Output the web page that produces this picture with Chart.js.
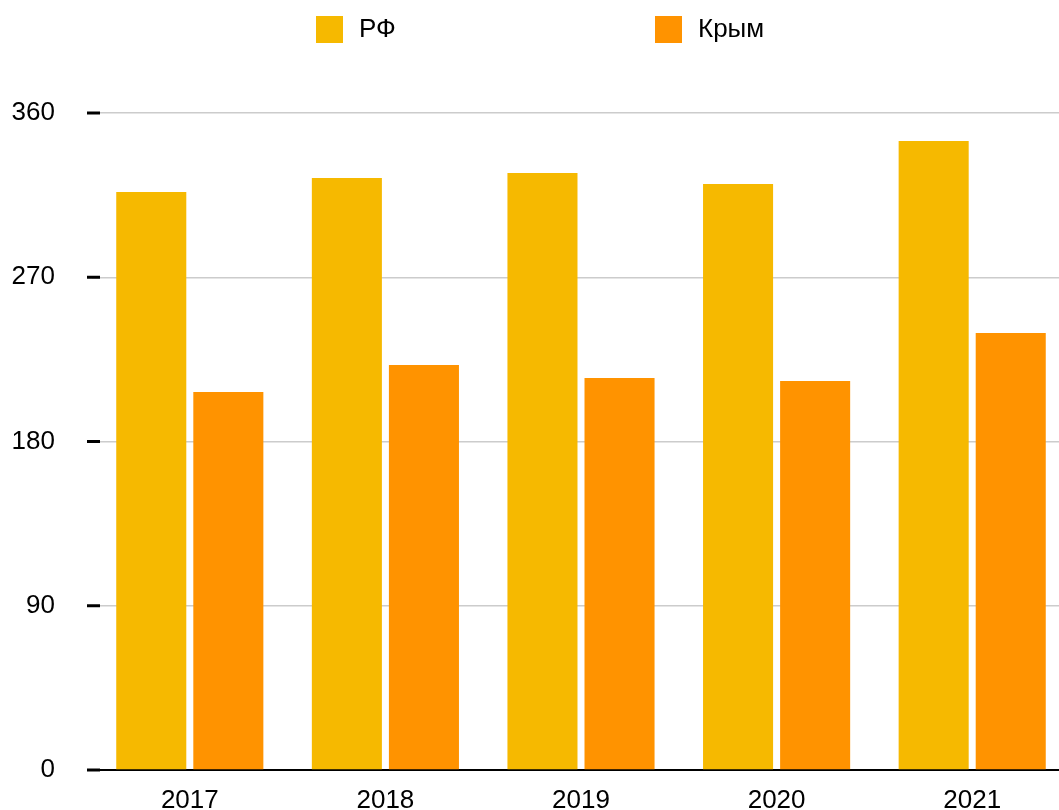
<!DOCTYPE html>
<html>
<head>
<meta charset="utf-8">
<script src="https://cdn.jsdelivr.net/npm/chart.js@4"></script>
<style>
  html, body { margin: 0; padding: 0; background: #fff; overflow: hidden; }
  canvas { display: block; }
</style>
</head>
<body>
<canvas id="chart" width="1070" height="810"></canvas>
<script>
const years = ["2017", "2018", "2019", "2020", "2021"];
const rfValues = [316.7, 324.4, 327.1, 321.1, 344.7];
const crimeaValues = [207.1, 221.9, 214.8, 213.2, 239.5];
const yTicks = [0, 90, 180, 270, 360];

const FONT = "'Liberation Sans', Arial, Helvetica, sans-serif";

// black tick marks on the left of the y axis
const yTickMarks = {
  id: "yTickMarks",
  afterDraw(chart) {
    const ctx = chart.ctx;
    const y = chart.scales.y;
    ctx.save();
    ctx.strokeStyle = "#000";
    ctx.lineWidth = 3;
    yTicks.forEach(v => {
      const py = y.getPixelForValue(v);
      ctx.beginPath();
      ctx.moveTo(87, py);
      ctx.lineTo(100, py);
      ctx.stroke();
    });
    ctx.restore();
  }
};

// legend spread out like the original
const wideLegend = {
  id: "wideLegend",
  afterDraw(chart) {
    const ctx = chart.ctx;
    const xs = [316, 655];
    ctx.save();
    ctx.font = "26px " + FONT;
    ctx.textBaseline = "middle";
    chart.data.datasets.forEach((ds, i) => {
      ctx.fillStyle = ds.backgroundColor;
      ctx.fillRect(xs[i], 16, 27, 27);
      ctx.fillStyle = "#000";
      ctx.fillText(ds.label, xs[i] + 43, 30);
    });
    ctx.restore();
  }
};

let ctx = document.getElementById("chart").getContext("2d");
let chart = new Chart(ctx, {
  type: "bar",
  data: {
    labels: years,
    datasets: [
      { label: "РФ", data: rfValues, backgroundColor: "#f6b900" },
      { label: "Крым", data: crimeaValues, backgroundColor: "#ff9300" },
    ],
  },
  options: {
    responsive: false,
    animation: false,
    datasets: {
      bar: { categoryPercentage: 0.788, barPercentage: 0.909 },
    },
    layout: { padding: { top: 113, left: 0, right: 0, bottom: 0 } },
    plugins: {
      legend: { display: false },
      tooltip: { enabled: false },
    },
    scales: {
      x: {
        afterFit(scale) { scale.height = 40; },
        grid: { display: false, drawTicks: false },
        border: { color: "#000", width: 2 },
        ticks: { color: "#000", padding: 15, font: { family: FONT, size: 26 } },
      },
      y: {
        min: 0,
        max: 360,
        afterFit(scale) {
          scale.width = 92;
          // tick padding must not push the plot area up
          scale.paddingTop = 0;
          scale.paddingBottom = 0;
        },
        afterBuildTicks(scale) { scale.ticks = yTicks.map(v => ({ value: v })); },
        grid: { color: "#cccccc", lineWidth: 1.5, drawTicks: false },
        border: { display: false },
        ticks: { color: "#000", padding: 37, font: { family: FONT, size: 26 } },
      },
    },
  },
  plugins: [yTickMarks, wideLegend],
});
</script>
</body>
</html>
